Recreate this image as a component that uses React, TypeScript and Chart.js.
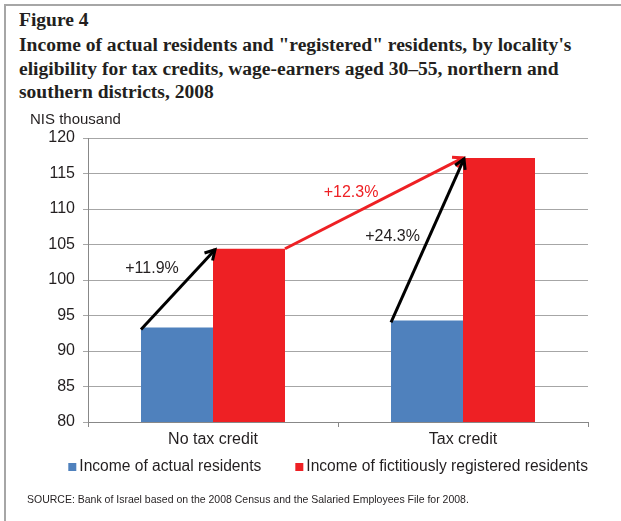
import React, { useEffect, useRef } from "react";
import { Chart, registerables } from "chart.js";

Chart.register(...registerables);

// ---- data ----
const categories = ["No tax credit", "Tax credit"];
const seriesNames = [
  "Income of actual residents",
  "Income of fictitiously registered residents",
];
const actualResidents = [93.3, 94.3];
const registeredResidents = [104.4, 117.2];
const growthLabels = ["+11.9%", "+12.3%", "+24.3%"];
const yMin = 80;
const yMax = 120;
const yStep = 5;
const yAxisUnit = "NIS thousand";
const figureLabel = "Figure 4";
const titleLines = [
  "Income of actual residents and \"registered\" residents, by locality's",
  "eligibility for tax credits, wage-earners aged 30\u201355, northern and",
  "southern districts, 2008",
];
const sourceNote =
  "SOURCE: Bank of Israel based on the 2008 Census and the Salaried Employees File for 2008.";

// ---- styles ----
const BLUE = "#4f81bd";
const RED = "#ee2024";
const TEXT = "#231f20";
const SANS = "'Liberation Sans', Arial, sans-serif";
const SERIF = "'Liberation Serif', 'Times New Roman', serif";

function drawArrow(ctx: CanvasRenderingContext2D, x0: number, y0: number, x1: number, y1: number, color: string) {
  ctx.save();
  ctx.strokeStyle = color;
  ctx.lineWidth = 3;
  ctx.lineCap = "butt";
  ctx.lineJoin = "miter";
  ctx.beginPath();
  ctx.moveTo(x0, y0);
  ctx.lineTo(x1, y1);
  ctx.stroke();
  const ang = Math.atan2(y1 - y0, x1 - x0);
  const len = 11;
  const spread = Math.PI / 6;
  ctx.beginPath();
  ctx.moveTo(x1 - len * Math.cos(ang - spread), y1 - len * Math.sin(ang - spread));
  ctx.lineTo(x1, y1);
  ctx.lineTo(x1 - len * Math.cos(ang + spread), y1 - len * Math.sin(ang + spread));
  ctx.stroke();
  ctx.restore();
}

const annotationPlugin = {
  id: "annotations",
  afterDatasetsDraw(chart: any) {
    const ctx: CanvasRenderingContext2D = chart.ctx;
    const b = chart.getDatasetMeta(0).data;
    const r = chart.getDatasetMeta(1).data;
    const left = (el: any) => el.x - el.width / 2;
    const right = (el: any) => el.x + el.width / 2;
    const arrows = [
      { from: [left(b[0]), b[0].y + 2], to: [left(r[0]) + 2, r[0].y + 1], color: "#000", label: growthLabels[0], lc: TEXT, off: [-26, -21] },
      { from: [right(r[0]), r[0].y], to: [left(r[1]), r[1].y], color: RED, label: growthLabels[1], lc: RED, off: [-23, -11] },
      { from: [left(b[1]), b[1].y + 2], to: [left(r[1]) + 1, r[1].y + 1], color: "#000", label: growthLabels[2], lc: TEXT, off: [-35, -4] },
    ];
    arrows.forEach((a) => {
      drawArrow(ctx, a.from[0], a.from[1], a.to[0], a.to[1], a.color);
    });
    ctx.save();
    ctx.font = "16px " + SANS;
    ctx.textAlign = "center";
    ctx.textBaseline = "middle";
    arrows.forEach((a) => {
      const mx = (a.from[0] + a.to[0]) / 2 + a.off[0];
      const my = (a.from[1] + a.to[1]) / 2 + a.off[1];
      ctx.fillStyle = a.lc;
      ctx.fillText(a.label, mx, my);
    });
    ctx.restore();
  },
  afterDraw(chart: any) {
    const ctx: CanvasRenderingContext2D = chart.ctx;
    const area = chart.chartArea;
    ctx.save();
    // unit label
    ctx.font = "15px " + SANS;
    ctx.fillStyle = TEXT;
    ctx.textAlign = "left";
    ctx.textBaseline = "middle";
    ctx.fillText(yAxisUnit, area.left - 58, area.top - 18);
    // legend
    ctx.font = "15.6px " + SANS;
    const box = 8;
    const gap = 3;
    const spacing = 34;
    const items = chart.data.datasets.map((d: any) => ({
      text: d.label,
      color: d.backgroundColor,
      w: ctx.measureText(d.label).width,
    }));
    let total = 0;
    items.forEach((it: any, i: number) => {
      total += box + gap + it.w + (i > 0 ? spacing : 0);
    });
    let x = area.right - total;
    const y = area.bottom + 45;
    items.forEach((it: any) => {
      ctx.fillStyle = it.color;
      ctx.fillRect(x, y - box / 2, box, box);
      ctx.fillStyle = TEXT;
      ctx.fillText(it.text, x + box + gap, y);
      x += box + gap + it.w + spacing;
    });
    ctx.restore();
  },
};

function ChartCanvas() {
  const ref = useRef<HTMLCanvasElement | null>(null);
  useEffect(() => {
    if (!ref.current) return;
    const chart = new Chart(ref.current, {
      type: "bar",
      data: {
        labels: categories,
        datasets: [
          { label: seriesNames[0], data: actualResidents, backgroundColor: BLUE, borderWidth: 0 },
          { label: seriesNames[1], data: registeredResidents, backgroundColor: RED, borderWidth: 0 },
        ],
      },
      options: {
        responsive: false,
        animation: false,
        layout: { padding: { left: 0, right: 33, top: 138, bottom: 69 } },
        plugins: {
          legend: { display: false },
          tooltip: { enabled: false },
          title: { display: false },
        },
        datasets: {
          bar: { categoryPercentage: 0.576, barPercentage: 1 },
        },
        scales: {
          x: {
            afterFit: (s: any) => { s.height = 30; },
            grid: { display: true, drawOnChartArea: false, drawTicks: true, tickLength: 5, color: "#888888", offset: true },
            border: { display: true, color: "#888888", width: 1 },
            ticks: { color: TEXT, font: { family: SANS, size: 16 }, padding: 3 },
          },
          y: {
            min: yMin,
            max: yMax,
            afterFit: (s: any) => { s.width = 88; },
            ticks: { stepSize: yStep, color: TEXT, font: { family: SANS, size: 16 }, padding: 8 },
            grid: { color: "#a6a6a6", lineWidth: 1, tickLength: 5, drawTicks: true },
            border: { display: true, color: "#888888", width: 1 },
          },
        },
      },
      plugins: [annotationPlugin],
    });
    return () => chart.destroy();
  }, []);
  return (
    <canvas
      ref={ref}
      width={621}
      height={521}
      style={{ position: "absolute", left: 0, top: 0, width: 621, height: 521 }}
    />
  );
}

export default function App() {
  const titleStyle: React.CSSProperties = {
    position: "absolute",
    left: 19,
    fontFamily: SERIF,
    fontWeight: "bold",
    fontSize: 18,
    color: "#231f20",
    whiteSpace: "nowrap",
    transform: "scaleX(1.085)",
    transformOrigin: "0 0",
  };
  return (
    <div
      style={{
        position: "absolute",
        left: 0,
        top: 0,
        width: 621,
        height: 521,
        background: "#fff",
        overflow: "hidden",
      }}
    >
      <div style={{ position: "absolute", left: 4, top: 4, width: 617, height: 2, background: "#a6a6a6" }} />
      <div style={{ position: "absolute", left: 4, top: 4, width: 2, height: 517, background: "#a6a6a6" }} />
      <div style={{ ...titleStyle, top: 8, lineHeight: "24px" }}>{figureLabel}</div>
      <div style={{ ...titleStyle, top: 34, lineHeight: "23.5px" }}>
        {titleLines.map((l, i) => (
          <div key={i}>{l}</div>
        ))}
      </div>
      <ChartCanvas />
      <div
        style={{
          position: "absolute",
          left: 27,
          top: 492,
          fontFamily: SANS,
          fontSize: 10.5,
          lineHeight: "14px",
          color: "#231f20",
          whiteSpace: "nowrap",
        }}
      >
        {sourceNote}
      </div>
    </div>
  );
}
